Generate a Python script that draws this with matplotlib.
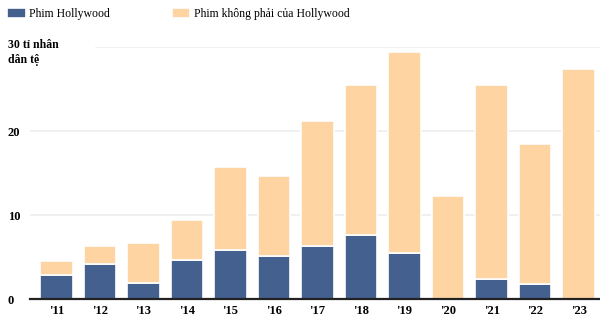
import numpy as np
import matplotlib.pyplot as plt
from matplotlib.transforms import blended_transform_factory, ScaledTranslation

years = ["'11", "'12", "'13", "'14", "'15", "'16", "'17", "'18", "'19", "'20", "'21", "'22", "'23"]
hollywood = [2.9, 4.2, 2.0, 4.7, 5.9, 5.1, 6.35, 7.6, 5.5, 0.0, 2.45, 1.8, 0.0]
non_hollywood = [1.7, 2.2, 4.7, 4.7, 9.85, 9.6, 14.85, 17.9, 24.0, 12.3, 23.05, 16.7, 27.4]
yticks = [0, 10, 20]
ytick_labels = ['0', '10', '20']
top_label = '30 tỉ nhân\ndân tệ'

blue = '#44608f'
peach = '#fdd4a2'

plt.rcParams['font.family'] = ['Liberation Serif', 'DejaVu Serif']

fig = plt.figure(figsize=(6, 3.32), dpi=100)
ax = fig.add_axes([30/600, 1 - 299.3/332, 570/600, 252/332])

x = np.arange(len(years))
b1 = ax.bar(x, hollywood, width=0.75, color=blue, edgecolor='white', linewidth=1.2, zorder=3)
b2 = ax.bar(x, non_hollywood, width=0.75, bottom=hollywood, color=peach,
            edgecolor='white', linewidth=1.2, zorder=3)

ax.set_xlim(-0.604, 12.49)
ax.set_ylim(0, 30)

for v in [10, 20]:
    ax.axhline(v, color='#eeeeee', lw=1.2, zorder=1)
ax.axhline(30, xmin=0.116, color='#eeeeee', lw=1.2, zorder=1)

ax.set_xticks(x)
ax.set_xticklabels(years, fontsize=9, fontweight='bold')
ax.set_yticks(yticks)
ax.set_yticklabels(ytick_labels, fontsize=9, fontweight='bold')
for lab in ax.get_yticklabels():
    lab.set_ha('left')
ax.tick_params(axis='y', length=0, pad=16)
ax.tick_params(axis='x', length=0, pad=4)

# top unit label, first line sitting on the 30 gridline
tr = blended_transform_factory(fig.transFigure, ax.transData)
tr = tr + ScaledTranslation(0, 8/100, fig.dpi_scale_trans)
ax.text(8/600, 30, top_label, transform=tr, ha='left', va='top',
        fontsize=8.5, fontweight='bold', linespacing=1.35)

for s in ['top', 'right', 'left']:
    ax.spines[s].set_visible(False)
ax.spines['bottom'].set_color('#222222')
ax.spines['bottom'].set_linewidth(1.6)
ax.spines['bottom'].set_zorder(4)

fig.legend([b1, b2], ['Phim Hollywood', 'Phim không phải của Hollywood'],
           loc='upper left', bbox_to_anchor=(7/600, 1 - 8/332), ncol=2, frameon=False,
           fontsize=8.5, handlelength=1.6, handleheight=0.9, handletextpad=0.3,
           columnspacing=5.2, borderpad=0, borderaxespad=0)

fig.savefig('out.png', dpi=100)
